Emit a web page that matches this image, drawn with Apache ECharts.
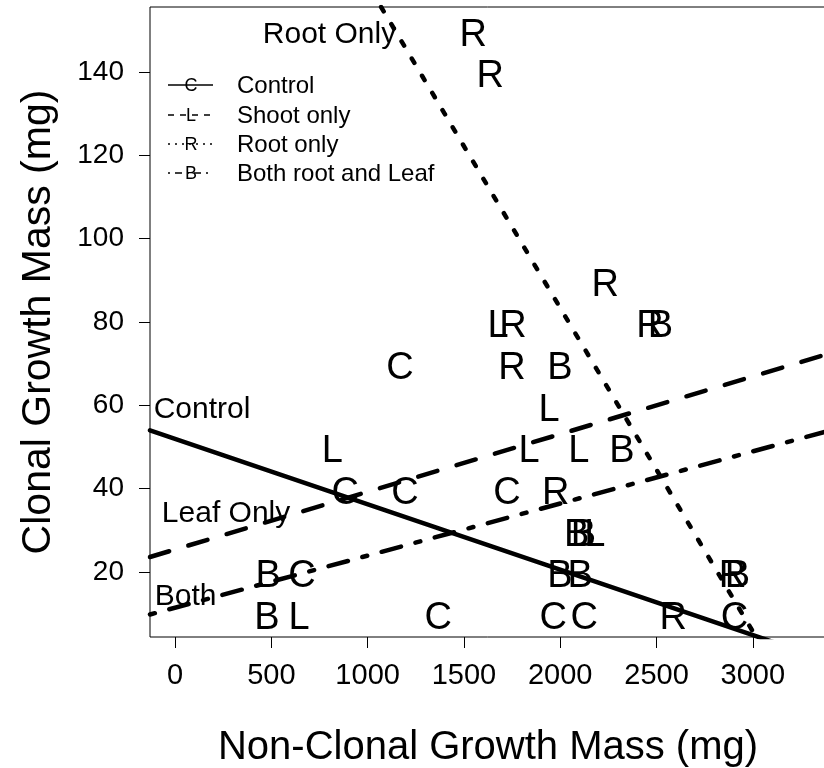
<!DOCTYPE html>
<html><head><meta charset="utf-8">
<script src="https://cdn.jsdelivr.net/npm/echarts@6/dist/echarts.min.js"></script>
<style>html,body{margin:0;padding:0;background:#fff;}#chart{width:824px;height:768px;}</style>
</head><body><div id="chart"></div>
<script>
// ---- data ----
const xTicks = [0, 500, 1000, 1500, 2000, 2500, 3000];
const yTicks = [20, 40, 60, 80, 100, 120, 140];

// Control (C)
const controlX = [1168, 883, 1194, 1723, 659, 1367, 1964, 2124, 2905];
const controlY = [70, 40, 40, 40, 20, 10, 10, 10, 10];
// Shoot only (L)
const shootX = [1677, 1942, 816, 1838, 2097, 2179, 644];
const shootY = [80, 60, 50, 50, 50, 30, 10];
// Root only (R)
const rootX = [1548, 1636, 2233, 1755, 2466, 1750, 1977, 2587, 2895];
const rootY = [150, 140, 90, 80, 80, 70, 40, 10, 20];
// Both root and Leaf (B)
const bothX = [2520, 1999, 2321, 2086, 2120, 1999, 2103, 2920, 483, 477];
const bothY = [80, 70, 50, 30, 30, 20, 20, 20, 20, 10];

// fitted lines (endpoints read at the plot edges)
const fitControlX = [-130, 3380], fitControlY = [54.0, -1.1];
const fitShootX = [-130, 3380], fitShootY = [23.6, 72.2];
const fitRootX = [1070, 3017], fitRootY = [155.6, 4.4];
const fitBothX = [-130, 3380], fitBothY = [9.8, 53.7];

// in-plot annotations
const noteText = ['Root Only', 'Control', 'Leaf Only', 'Both'];
const noteX = [802, 140, 265, 55];
const noteY = [150, 60, 35, 15];

const legendLabels = ['Control', 'Shoot only', 'Root only', 'Both root and Leaf'];
const legendLetters = ['C', 'L', 'R', 'B'];

// ---- build ----
const FONT = 'Liberation Sans, Arial, Helvetica, sans-serif';
const zip = (a, b) => a.map((v, i) => [v, b[i]]);

function letterSeries(xs, ys, letter) {
  return {
    type: 'scatter', data: zip(xs, ys), symbolSize: 1,
    itemStyle: { color: 'rgba(0,0,0,0)', opacity: 1 },
    label: { show: true, position: 'inside', offset: [0, 5], formatter: letter, fontSize: 38, fontFamily: FONT, color: '#000', opacity: 1 },
    silent: true, z: 3
  };
}
function fitSeries(xs, ys, dash) {
  return {
    type: 'line', data: zip(xs, ys), symbol: 'none', clip: true, silent: true, z: 4,
    lineStyle: { color: '#000', width: 4.5, type: dash, cap: 'round', opacity: 1 }
  };
}

const lineDashes = ['solid', [20, 20], [5, 15], [5, 15, 20, 15]];
const legendDashes = [null, [6, 6], [2, 5], [2, 5, 7, 5]];
const legendY = [85, 115, 144, 173];

const graphics = [];
legendLabels.forEach((lab, i) => {
  graphics.push({
    type: 'line', shape: { x1: 168, y1: legendY[i], x2: 213, y2: legendY[i] },
    style: { stroke: '#000', lineWidth: 1.5, lineDash: legendDashes[i] || null }, z: 10
  });
  graphics.push({
    type: 'text', x: 191, y: legendY[i] + 1,
    style: { text: legendLetters[i], fontSize: 18, fontFamily: FONT, fill: '#000',
      align: 'center', verticalAlign: 'middle', textAlign: 'center', textVerticalAlign: 'middle' }, z: 10
  });
  graphics.push({
    type: 'text', x: 237, y: legendY[i] + 1,
    style: { text: lab, fontSize: 24, fontFamily: FONT, fill: '#000',
      align: 'left', verticalAlign: 'middle', textAlign: 'left', textVerticalAlign: 'middle' }, z: 10
  });
});

const chart = echarts.init(document.getElementById('chart'));
chart.setOption({
  animation: false,
  backgroundColor: '#fff',
  grid: { left: 150, top: 7, right: -2, bottom: 131, containLabel: false, outerBoundsMode: 'none',
    show: true, borderColor: '#000', borderWidth: 1, backgroundColor: 'transparent' },
  xAxis: {
    type: 'value', min: -130, max: 3380,
    name: 'Non-Clonal Growth Mass (mg)', nameLocation: 'middle', nameGap: 91,
    nameTextStyle: { fontSize: 40, fontFamily: FONT, color: '#000' },
    axisLine: { show: false, onZero: false },
    axisTick: { show: true, customValues: xTicks, length: 11, lineStyle: { color: '#000', width: 1 } },
    axisLabel: { customValues: xTicks, formatter: v => String(v), fontSize: 29, fontFamily: FONT, color: '#000', margin: 24 },
    splitLine: { show: false }
  },
  yAxis: {
    type: 'value', min: 4.4, max: 155.6,
    name: 'Clonal Growth Mass (mg)', nameLocation: 'middle', nameGap: 91, nameRotate: 90,
    nameTextStyle: { fontSize: 41, fontFamily: FONT, color: '#000' },
    axisLine: { show: false, onZero: false },
    axisTick: { show: true, customValues: yTicks, length: 11, lineStyle: { color: '#000', width: 1 } },
    axisLabel: { customValues: yTicks, formatter: v => String(v), fontSize: 28, fontFamily: FONT, color: '#000', margin: 26 },
    splitLine: { show: false }
  },
  series: [
    letterSeries(controlX, controlY, 'C'),
    letterSeries(shootX, shootY, 'L'),
    letterSeries(rootX, rootY, 'R'),
    letterSeries(bothX, bothY, 'B'),
    fitSeries(fitControlX, fitControlY, lineDashes[0]),
    fitSeries(fitShootX, fitShootY, lineDashes[1]),
    fitSeries(fitRootX, fitRootY, lineDashes[2]),
    fitSeries(fitBothX, fitBothY, lineDashes[3]),
    {
      type: 'scatter', symbolSize: 1, itemStyle: { color: 'rgba(0,0,0,0)', opacity: 1 }, silent: true, z: 3,
      data: noteX.map((x, i) => [x, noteY[i], noteText[i]]),
      label: { show: true, position: 'inside', offset: [0, 4], formatter: p => p.value[2], fontSize: 30, fontFamily: FONT, color: '#000', opacity: 1 }
    }
  ],
  graphic: graphics
});
</script></body></html>
